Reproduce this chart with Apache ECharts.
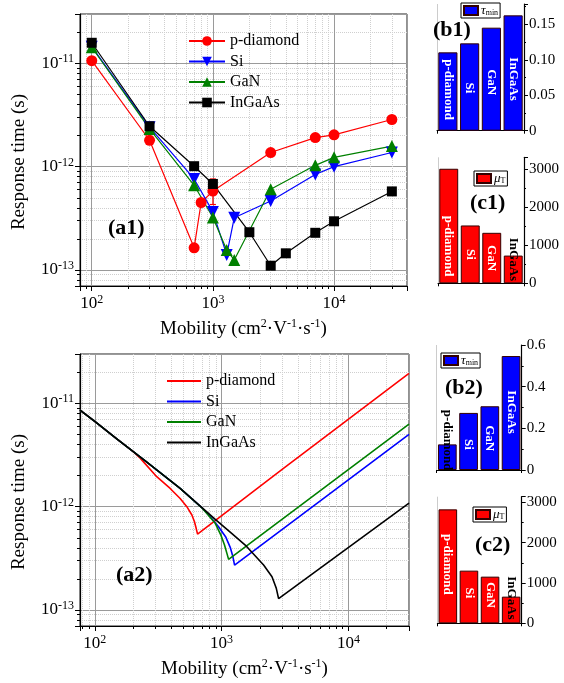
<!DOCTYPE html>
<html><head><meta charset="utf-8">
<script src="https://cdn.jsdelivr.net/npm/echarts@6.0.0/dist/echarts.min.js"></script>
<style>html,body{margin:0;padding:0;background:#fff;}#chart{width:564px;height:683px;}</style>
</head><body><div id="chart"></div>
<script>
// ---------------- data ----------------
const materials = ['p-diamond', 'Si', 'GaN', 'InGaAs'];

// (a1) response time vs mobility (points)
const a1DiamondX = [100, 300, 700, 800, 1000, 3000, 7000, 10000, 30000];
const a1DiamondY = [1.06e-11, 1.8e-12, 1.64e-13, 4.5e-13, 5.8e-13, 1.37e-12, 1.91e-12, 2.03e-12, 2.86e-12];
const a1SiX = [100, 300, 700, 1000, 1300, 1500, 3000, 7000, 10000, 30000];
const a1SiY = [1.45e-11, 2.41e-12, 7.6e-13, 3.65e-13, 1.4e-13, 3.2e-13, 4.65e-13, 8.4e-13, 1.0e-12, 1.37e-12];
const a1GaNX = [100, 300, 700, 1000, 1300, 1500, 3000, 7000, 10000, 30000];
const a1GaNY = [1.43e-11, 2.32e-12, 6.6e-13, 3.22e-13, 1.56e-13, 1.25e-13, 6.05e-13, 1.03e-12, 1.23e-12, 1.58e-12];
const a1InGaAsX = [100, 300, 700, 1000, 2000, 3000, 4000, 7000, 10000, 30000];
const a1InGaAsY = [1.58e-11, 2.46e-12, 1.01e-12, 6.8e-13, 2.32e-13, 1.1e-13, 1.45e-13, 2.29e-13, 2.96e-13, 5.76e-13];
const a1ErrX = [1000];
const a1ErrLow = [4.3e-13];
const a1ErrHigh = [7.6e-13];

// (a2) response time vs mobility (curves)
const a2DiamondX = [76.5, 100, 150, 200, 228, 308, 393, 471, 532, 583, 611, 630, 646, 3000, 30000];
const a2DiamondY = [8.6e-12, 6.67e-12, 4.51e-12, 3.42e-12, 2.95e-12, 1.95e-12, 1.5e-12, 1.2e-12, 1.0e-12, 8.3e-13, 7.15e-13, 6.17e-13, 5.43e-13, 2.29e-12, 1.95e-11];
const a2SiX = [76.5, 100, 150, 200, 250, 471, 700, 813, 946, 1081, 1169, 1228, 1265, 30000];
const a2SiY = [8.6e-12, 6.67e-12, 4.51e-12, 3.42e-12, 2.77e-12, 1.5e-12, 9.75e-13, 7.98e-13, 6.38e-13, 5.05e-13, 4.04e-13, 3.27e-13, 2.72e-13, 5.0e-12];
const a2GaNX = [76.5, 100, 150, 200, 250, 471, 700, 765, 891, 987, 1054, 1101, 1135, 30000];
const a2GaNY = [8.6e-12, 6.67e-12, 4.51e-12, 3.42e-12, 2.77e-12, 1.5e-12, 9.7e-13, 8.6e-13, 6.9e-13, 5.3e-13, 4.25e-13, 3.53e-13, 3.09e-13, 6.3e-12];
const a2InGaAsX = [76.5, 100, 150, 200, 250, 471, 700, 891, 1200, 1535, 2143, 2495, 2698, 2813, 30000];
const a2InGaAsY = [8.6e-12, 6.67e-12, 4.51e-12, 3.42e-12, 2.77e-12, 1.5e-12, 9.8e-13, 7.53e-13, 5.5e-13, 4.25e-13, 2.72e-13, 2.1e-13, 1.62e-13, 1.29e-13, 1.08e-12];

// bar panels
const tauMin1 = [0.1105, 0.1232, 0.1453, 0.1627];
const muT1 = [3000, 1515, 1322, 726];
const tauMin2 = [0.123, 0.274, 0.306, 0.547];
const muT2 = [2826, 1306, 1157, 661];

// ---------------- helpers ----------------
const F = 'Liberation Serif';
const zip = (xs, ys) => xs.map((x, i) => [x, ys[i]]);
function pow10Label(v) {
  const e = Math.log10(v);
  if (Math.abs(e - Math.round(e)) > 1e-6) return '';
  return '10{sup|' + Math.round(e) + '}';
}
const supStyle = { fontSize: 12, verticalAlign: 'top', lineHeight: 20, fontFamily: F, color: '#000' };

function logAxis(grid, min, max, isX) {
  const ax = {
    type: 'log', logBase: 10, gridIndex: grid, min: min, max: max,
    axisLine: { show: true, onZero: false, lineStyle: { color: '#000', width: 1.2 } },
    axisTick: { show: true, inside: false, length: 5, lineStyle: { color: '#000' } },
    minorTick: { show: true, splitNumber: 9, length: 3, lineStyle: { color: '#000' } },
    splitLine: { show: true, lineStyle: { color: '#9a9a9a', width: 1 } },
    minorSplitLine: { show: true, lineStyle: { color: '#cfcfcf', type: 'dotted', width: 1 } },
    axisLabel: { formatter: pow10Label, margin: isX ? 8 : 6, fontFamily: F, fontSize: 17, color: '#000', lineHeight: 20, rich: { sup: supStyle } },
    nameLocation: 'middle',
    nameTextStyle: { fontFamily: F, fontSize: 19, color: '#000', lineHeight: 22,
      rich: { sup: { fontSize: 12, verticalAlign: 'top', lineHeight: 22, fontFamily: F, color: '#000' } } }
  };
  if (isX) { ax.name = 'Mobility (cm{sup|2}·V{sup|-1}·s{sup|-1})'; ax.nameGap = 32; }
  else { ax.name = 'Response time (s)'; ax.nameGap = 50; ax.nameTextStyle.padding = [0, 24, 0, 0]; }
  return ax;
}

function catAxis(grid) {
  return {
    type: 'category', gridIndex: grid, data: materials, boundaryGap: true,
    axisLine: { show: true, lineStyle: { color: '#000', width: 1 } },
    axisTick: { show: true, alignWithLabel: false, length: 3, lineStyle: { color: '#000' } },
    axisLabel: { show: false },
    splitLine: { show: true, lineStyle: { color: '#cccccc', width: 1 } }
  };
}
function valAxis(grid, max, interval, dec, showMax) {
  return {
    type: 'value', gridIndex: grid, position: 'right', min: 0, max: max, interval: interval,
    axisLine: { show: true, onZero: false, lineStyle: { color: '#000', width: 1.2 } },
    axisTick: { show: true, inside: false, length: 4, lineStyle: { color: '#000' } },
    minorTick: { show: true, splitNumber: 2, length: 2, lineStyle: { color: '#000' } },
    splitLine: { show: false },
    axisLabel: { margin: 5, fontFamily: F, fontSize: 15, color: '#000', showMaxLabel: !!showMax,
      formatter: v => (v === 0 ? '0' : (dec ? v.toFixed(dec) : String(v))) }
  };
}

function lineSeries(name, axis, data, color, symbol, size, rotate, showSym) {
  return {
    type: 'line', name: name, xAxisIndex: axis, yAxisIndex: axis, data: data,
    symbol: showSym ? symbol : 'none', symbolSize: size, symbolRotate: rotate || 0,
    showSymbol: !!showSym,
    lineStyle: { color: color, width: showSym ? 1.2 : 1.6 },
    itemStyle: { color: color },
    emphasis: { disabled: true }, animation: false, z: 3
  };
}

// label offsets: with rotate -90 the offset is applied in the rotated frame,
// so the first component moves the text down the bar on screen.
function barSeries(name, axis, values, color, shiftDown, blackIdx) {
  return {
    type: 'bar', name: name, xAxisIndex: axis, yAxisIndex: axis, barCategoryGap: '12%',
    itemStyle: { color: color, borderColor: '#300', borderWidth: 1 },
    data: values.map((v, i) => ({ value: v, label: { offset: [shiftDown[i], 0], color: i === blackIdx ? '#000' : '#fff' } })),
    label: { show: true, position: 'inside', rotate: -90, formatter: p => materials[p.dataIndex],
      fontFamily: F, fontSize: 13, fontWeight: 'bold', color: '#fff' },
    emphasis: { disabled: true }, animation: false
  };
}

const a2name = n => 'a2:' + n;

function barLegend(name, left, top, sym, sub) {
  return {
    data: [name], left: left, top: top, orient: 'horizontal', icon: 'rect',
    itemWidth: 14, itemHeight: 9, itemGap: 0,
    backgroundColor: '#fff', borderColor: '#000', borderWidth: 1, padding: [1, 2, 1, 2],
    formatter: () => '{i|' + sym + '}{s|' + sub + '}',
    textStyle: { fontFamily: F, color: '#000', padding: [0, 0, 0, -2],
      rich: { i: { fontStyle: 'italic', fontSize: 13, fontFamily: F, color: '#000' },
              s: { fontSize: 8, fontFamily: F, color: '#000', verticalAlign: 'bottom', lineHeight: 10 } } },
    selectedMode: false
  };
}

const errSeries = {
  type: 'custom', name: 'err', xAxisIndex: 0, yAxisIndex: 0,
  data: a1ErrX.map((x, i) => [x, a1ErrLow[i], a1ErrHigh[i]]),
  encode: { x: 0, y: [1, 2] },
  renderItem: (params, api) => {
    const x = api.value(0);
    const lo = api.coord([x, api.value(1)]);
    const hi = api.coord([x, api.value(2)]);
    const st = { stroke: '#ff0000', lineWidth: 1.2 };
    return { type: 'group', children: [
      { type: 'line', shape: { x1: lo[0], y1: lo[1], x2: hi[0], y2: hi[1] }, style: st },
      { type: 'line', shape: { x1: lo[0] - 3, y1: lo[1], x2: lo[0] + 3, y2: lo[1] }, style: st },
      { type: 'line', shape: { x1: hi[0] - 3, y1: hi[1], x2: hi[0] + 3, y2: hi[1] }, style: st }
    ] };
  },
  z: 2, animation: false, silent: true
};

const titleStyle = { fontFamily: F, fontSize: 22, fontWeight: 'bold', color: '#000' };
const mkTitle = (t, left, top) => ({ text: t, left: left, top: top, padding: 0, textStyle: titleStyle });

const option = {
  backgroundColor: '#fff',
  animation: false,
  title: [
    mkTitle('(a1)', 108, 217), mkTitle('(a2)', 116, 564),
    mkTitle('(b1)', 433, 19), mkTitle('(c1)', 470, 192),
    mkTitle('(b2)', 445, 377), mkTitle('(c2)', 475, 534)
  ],
  grid: [
    { left: 80, top: 14, width: 327, height: 272, show: true, borderColor: '#222', borderWidth: 1, backgroundColor: 'transparent', outerBoundsMode: 'none' },
    { left: 80, top: 354, width: 329, height: 272, show: true, borderColor: '#222', borderWidth: 1, backgroundColor: 'transparent', outerBoundsMode: 'none' },
    { left: 437, top: 4, width: 87, height: 126.7, outerBoundsMode: 'none' },
    { left: 438, top: 157.3, width: 86, height: 126, outerBoundsMode: 'none' },
    { left: 436.7, top: 345, width: 85, height: 125, outerBoundsMode: 'none' },
    { left: 437.3, top: 496.7, width: 84.4, height: 126.6, outerBoundsMode: 'none' }
  ],
  xAxis: [
    logAxis(0, 80, 40000, true), logAxis(1, 76.5, 30000, true),
    catAxis(2), catAxis(3), catAxis(4), catAxis(5)
  ],
  yAxis: [
    logAxis(0, 7e-14, 3e-11, false), logAxis(1, 7e-14, 3e-11, false),
    valAxis(2, 0.1787, 0.05, 2, false), valAxis(3, 3300, 1000, 0, false),
    valAxis(4, 0.6, 0.2, 1, true), valAxis(5, 3140, 1000, 0, false)
  ],
  legend: [
    { data: ['p-diamond', 'Si', 'GaN', 'InGaAs'], orient: 'vertical', left: 183, top: 28,
      itemWidth: 36, itemHeight: 12, itemGap: 4.5, selectedMode: false,
      textStyle: { fontFamily: F, fontSize: 16, color: '#000' } },
    { data: ['p-diamond', 'Si', 'GaN', 'InGaAs'].map(a2name), orient: 'vertical', left: 162, top: 368,
      itemWidth: 34, itemHeight: 12, itemGap: 4.5, selectedMode: false, icon: 'path://M0,5 L34,5 L34,7 L0,7 Z',
      formatter: n => n.split(':')[1],
      textStyle: { fontFamily: F, fontSize: 16, color: '#000' } },
    barLegend('tau1', 461, 3, 'τ', 'min'),
    barLegend('mu1', 474, 171, 'μ', 'T'),
    barLegend('tau2', 441, 353, 'τ', 'min'),
    barLegend('mu2', 473, 507, 'μ', 'T')
  ],
  series: [
    lineSeries('p-diamond', 0, zip(a1DiamondX, a1DiamondY), '#ff0000', 'circle', 11, 0, true),
    lineSeries('Si', 0, zip(a1SiX, a1SiY), '#0000ff', 'triangle', 12, 180, true),
    lineSeries('GaN', 0, zip(a1GaNX, a1GaNY), '#008000', 'triangle', 12, 0, true),
    lineSeries('InGaAs', 0, zip(a1InGaAsX, a1InGaAsY), '#000000', 'rect', 10, 0, true),
    errSeries,
    lineSeries(a2name('p-diamond'), 1, zip(a2DiamondX, a2DiamondY), '#ff0000', 'none', 0, 0, false),
    lineSeries(a2name('Si'), 1, zip(a2SiX, a2SiY), '#0000ff', 'none', 0, 0, false),
    lineSeries(a2name('GaN'), 1, zip(a2GaNX, a2GaNY), '#008000', 'none', 0, 0, false),
    lineSeries(a2name('InGaAs'), 1, zip(a2InGaAsX, a2InGaAsY), '#000000', 'none', 0, 0, false),
    barSeries('tau1', 2, tauMin1, '#0000ff', [-2, 1, 3, 6], -1),
    barSeries('mu1', 3, muT1, '#ff0000', [20, 0, 0, -10], 3),
    barSeries('tau2', 4, tauMin2, '#0000ff', [-17, 3, 0, -1], 0),
    barSeries('mu2', 5, muT2, '#ff0000', [-2, -4, -5, -12], 3)
  ]
};

const chart = echarts.init(document.getElementById('chart'), null, { renderer: 'canvas' });
chart.setOption(option);
</script>
</body></html>
